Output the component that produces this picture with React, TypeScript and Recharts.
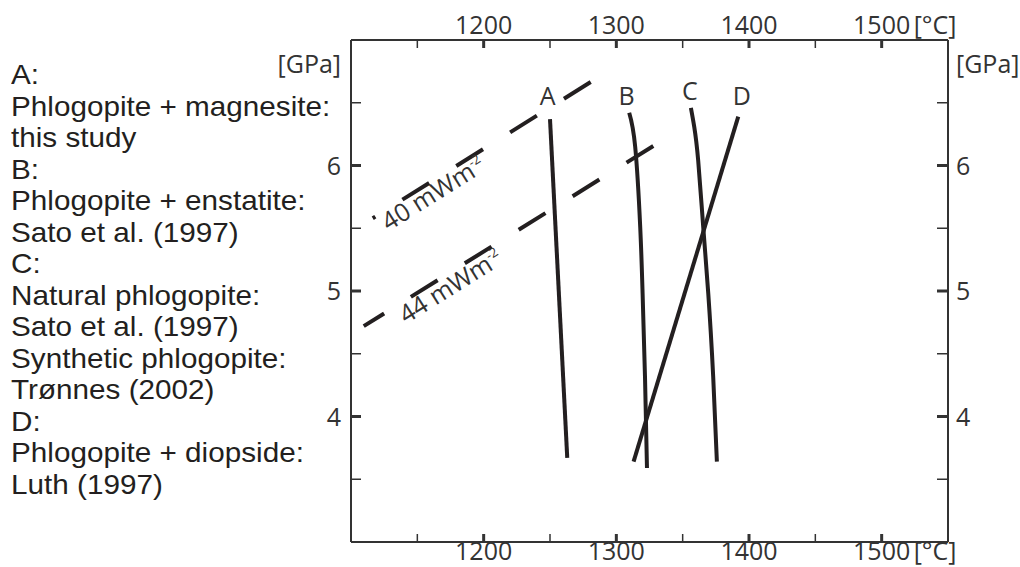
import React from 'react';
import { ComposedChart, Line, Scatter, XAxis, YAxis } from 'recharts';

const tempTicks = [1150, 1200, 1250, 1300, 1350, 1400, 1450, 1500];
const pressureTicks = [3.5, 4, 4.5, 5, 5.5, 6, 6.5];

const curveA = [
  { x: 1250, y: 6.37 },
  { x: 1263, y: 3.67 },
];
const curveB = [
  { x: 1309.7, y: 6.42 },
  { x: 1314.2, y: 6.15 },
  { x: 1318.0, y: 5.51 },
  { x: 1319.8, y: 4.98 },
  { x: 1321.6, y: 4.32 },
  { x: 1323.1, y: 3.59 },
];
const curveC = [
  { x: 1356.2, y: 6.46 },
  { x: 1358.7, y: 6.31 },
  { x: 1361.7, y: 6.04 },
  { x: 1365.5, y: 5.51 },
  { x: 1369.3, y: 4.98 },
  { x: 1373.0, y: 4.32 },
  { x: 1375.8, y: 3.64 },
];
const curveD = [
  { x: 1391.9, y: 6.39 },
  { x: 1313.0, y: 3.64 },
];
const geotherm40 = [
  { x: 1116.4, y: 5.58 },
  { x: 1281.4, y: 6.67 },
];
const geotherm44 = [
  { x: 1109.6, y: 4.72 },
  { x: 1328.6, y: 6.16 },
];
const curveLabels = [
  { x: 1248.2, y: 6.48, label: 'A' },
  { x: 1307.8, y: 6.48, label: 'B' },
  { x: 1355.5, y: 6.52, label: 'C' },
  { x: 1394.5, y: 6.48, label: 'D' },
];
const geothermLabels = [
  { x: 1165.4, y: 5.72, label: '40 mWm' },
  { x: 1178.5, y: 4.98, label: '44 mWm' },
];
const legendLines = [
  'A:',
  'Phlogopite + magnesite:',
  'this study',
  'B:',
  'Phlogopite + enstatite:',
  'Sato et al. (1997)',
  'C:',
  'Natural phlogopite:',
  'Sato et al. (1997)',
  'Synthetic phlogopite:',
  'Trønnes (2002)',
  'D:',
  'Phlogopite + diopside:',
  'Luth (1997)',
];

const INK = '#231f20';
const AXIS = '#333';
const TXT = '#333';
const FONT = '"Open Sans", sans-serif';

const BottomTick = (props: any) => {
  const { x, y, payload } = props;
  const v = payload.value;
  const major = v % 100 === 0;
  return (
    <g>
      <line x1={x} x2={x} y1={y} y2={y - 8} stroke={AXIS} strokeWidth={major ? 3 : 1.5} />
      {major && (
        <text x={x} y={y + 18} textAnchor="middle" fontFamily={FONT} fontSize={25} fill={TXT}>
          {v}
        </text>
      )}
      {v === 1500 && (
        <text x={x + 32} y={y + 18} textAnchor="start" fontFamily={FONT} fontSize={25} fill={TXT}>
          [°C]
        </text>
      )}
    </g>
  );
};

const TopTick = (props: any) => {
  const { x, y, payload } = props;
  const v = payload.value;
  const major = v % 100 === 0;
  return (
    <g>
      <line x1={x} x2={x} y1={y} y2={y + 8} stroke={AXIS} strokeWidth={major ? 3 : 1.5} />
      {major && (
        <text x={x} y={y - 6.5} textAnchor="middle" fontFamily={FONT} fontSize={25} fill={TXT}>
          {v}
        </text>
      )}
      {v === 1500 && (
        <text x={x + 32} y={y - 6.5} textAnchor="start" fontFamily={FONT} fontSize={25} fill={TXT}>
          [°C]
        </text>
      )}
    </g>
  );
};

const LeftTick = (props: any) => {
  const { x, y, payload } = props;
  const v = payload.value;
  const major = Number.isInteger(v);
  return (
    <g>
      <line x1={x} x2={x + 10} y1={y} y2={y} stroke={AXIS} strokeWidth={major ? 3 : 1.5} />
      {major && (
        <text x={x - 10} y={y} dy="0.36em" textAnchor="end" fontFamily={FONT} fontSize={25} fill={TXT}>
          {v}
        </text>
      )}
      {v === 6.5 && (
        <text x={x - 10} y={y - 30} textAnchor="end" fontFamily={FONT} fontSize={25} fill={TXT}>
          [GPa]
        </text>
      )}
    </g>
  );
};

const RightTick = (props: any) => {
  const { x, y, payload } = props;
  const v = payload.value;
  const major = Number.isInteger(v);
  return (
    <g>
      <line x1={x} x2={x - 11} y1={y} y2={y} stroke={AXIS} strokeWidth={major ? 3 : 1.5} />
      {major && (
        <text x={x + 8} y={y} dy="0.36em" textAnchor="start" fontFamily={FONT} fontSize={25} fill={TXT}>
          {v}
        </text>
      )}
      {v === 6.5 && (
        <text x={x + 8} y={y - 30} textAnchor="start" fontFamily={FONT} fontSize={25} fill={TXT}>
          [GPa]
        </text>
      )}
    </g>
  );
};

const CurveLabel = (props: any) => (
  <text x={props.cx} y={props.cy} textAnchor="middle" fontFamily={FONT} fontSize={25} fill={TXT}>
    {props.payload.label}
  </text>
);

const GeothermLabel = (props: any) => (
  <text
    x={props.cx}
    y={props.cy}
    textAnchor="middle"
    fontFamily={FONT}
    fontSize={25}
    fill={TXT}
    transform={`rotate(-32 ${props.cx} ${props.cy})`}
  >
    {props.payload.label}
    <tspan dy={-10} fontSize={13}>-2</tspan>
  </text>
);

export default function App() {
  return (
    <div style={{ position: 'absolute', left: 0, top: 0, width: 1020, height: 567, background: '#fff' }}>
      <div
        style={{
          position: 'absolute',
          left: 11,
          top: 59,
          fontFamily: '"Liberation Sans", Arial, sans-serif',
          fontSize: 28,
          lineHeight: '31.5px',
          color: INK,
          whiteSpace: 'nowrap',
          transform: 'scaleX(1.06)',
          transformOrigin: 'left top',
        }}
      >
        {legendLines.map((l, i) => (
          <div key={i}>{l}</div>
        ))}
      </div>
      <div style={{ position: 'absolute', left: 0, top: 0 }}>
        <ComposedChart width={1020} height={567} margin={{ top: 0, right: 0, bottom: 0, left: 0 }}>
          <XAxis
            xAxisId="b"
            orientation="bottom"
            type="number"
            dataKey="x"
            domain={[1100, 1550]}
            ticks={tempTicks}
            interval={0}
            allowDataOverflow
            height={25}
            tickSize={0}
            tickMargin={0}
            axisLine={{ stroke: AXIS, strokeWidth: 2 }}
            tickLine={false}
            tick={<BottomTick />}
          />
          <XAxis
            xAxisId="t"
            orientation="top"
            type="number"
            dataKey="x"
            domain={[1100, 1550]}
            ticks={tempTicks}
            interval={0}
            allowDataOverflow
            height={40}
            tickSize={0}
            tickMargin={0}
            axisLine={{ stroke: AXIS, strokeWidth: 2 }}
            tickLine={false}
            tick={<TopTick />}
          />
          <YAxis
            yAxisId="l"
            orientation="left"
            type="number"
            dataKey="y"
            domain={[3, 7]}
            ticks={pressureTicks}
            interval={0}
            allowDataOverflow
            width={351}
            tickSize={0}
            tickMargin={0}
            axisLine={{ stroke: AXIS, strokeWidth: 2 }}
            tickLine={false}
            tick={<LeftTick />}
          />
          <YAxis
            yAxisId="r"
            orientation="right"
            type="number"
            dataKey="y"
            domain={[3, 7]}
            ticks={pressureTicks}
            interval={0}
            allowDataOverflow
            width={72}
            tickSize={0}
            tickMargin={0}
            axisLine={{ stroke: AXIS, strokeWidth: 2 }}
            tickLine={false}
            tick={<RightTick />}
          />
          <Line
            xAxisId="b"
            yAxisId="l"
            data={geotherm40}
            dataKey="y"
            type="linear"
            stroke={INK}
            strokeWidth={4}
            strokeDasharray="3 32 31.5 32 31.5 32 31.5 32 31.5 32"
            dot={false}
            activeDot={false}
            isAnimationActive={false}
          />
          <Line
            xAxisId="b"
            yAxisId="l"
            data={geotherm44}
            dataKey="y"
            type="linear"
            stroke={INK}
            strokeWidth={4}
            strokeDasharray="24 31.5 31.5 32 31.5 32 31.5 32 31.5 32 31.5 32"
            dot={false}
            activeDot={false}
            isAnimationActive={false}
          />
          <Line xAxisId="b" yAxisId="l" data={curveA} dataKey="y" type="linear" stroke={INK} strokeWidth={4} dot={false} activeDot={false} isAnimationActive={false} />
          <Line xAxisId="b" yAxisId="l" data={curveB} dataKey="y" type="natural" stroke={INK} strokeWidth={4} dot={false} activeDot={false} isAnimationActive={false} />
          <Line xAxisId="b" yAxisId="l" data={curveC} dataKey="y" type="natural" stroke={INK} strokeWidth={4} dot={false} activeDot={false} isAnimationActive={false} />
          <Line xAxisId="b" yAxisId="l" data={curveD} dataKey="y" type="linear" stroke={INK} strokeWidth={4} dot={false} activeDot={false} isAnimationActive={false} />
          <Scatter xAxisId="t" yAxisId="r" data={curveLabels} shape={CurveLabel} isAnimationActive={false} />
          <Scatter xAxisId="b" yAxisId="l" data={geothermLabels} shape={GeothermLabel} isAnimationActive={false} />
        </ComposedChart>
      </div>
    </div>
  );
}
